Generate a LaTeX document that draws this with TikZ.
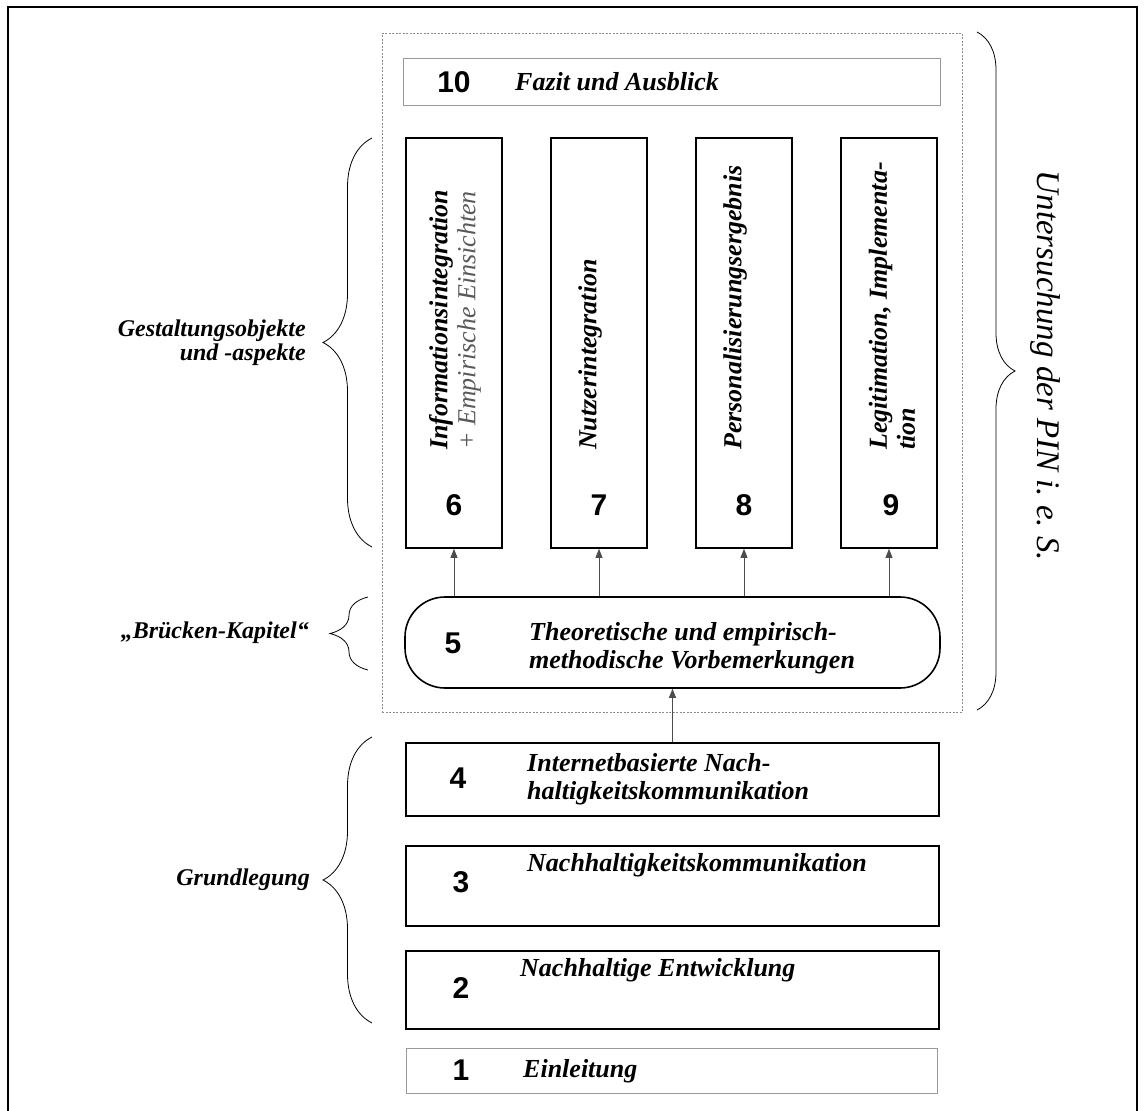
\documentclass[tikz,border=0pt]{standalone}
\usepackage{fontspec}
\setmainfont{Liberation Serif}
\newfontfamily\numfont{Liberation Sans}
\usetikzlibrary{arrows.meta,decorations.pathreplacing}
\frenchspacing

\begin{document}
\begin{tikzpicture}[x=1pt,y=-1pt,
  chap/.style={draw, line width=1.6pt, inner sep=0pt},
  lightchap/.style={draw=black!40, line width=1pt, inner sep=0pt},
  num/.style={font=\numfont\bfseries\fontsize{30}{30}\selectfont, inner sep=0pt},
  ttl/.style={font=\bfseries\itshape\fontsize{26}{28}\selectfont, inner sep=0pt, align=left},
  lbl/.style={font=\bfseries\itshape\fontsize{24}{24}\selectfont, inner sep=0pt, align=right},
  up/.style={draw=black!70, line width=0.8pt, -{Triangle[length=9pt,width=7pt]}},
  brc/.style={decorate, decoration={brace, amplitude=#1}, line width=0.8pt},
]
\useasboundingbox (0,0) rectangle (1144,1111);

% outer frame
\draw[line width=1.5pt] (8,1111) -- (8,7) -- (1137,7) -- (1137,1111);

% dotted zone around chapters 5 to 10
\node[draw=black!45, dash pattern=on 2pt off 1.5pt, line width=0.7pt,
      minimum width=580pt, minimum height=679pt, inner sep=0pt] (zone) at (672,372.5) {};

% chapter boxes
\node[lightchap, minimum width=537pt, minimum height=47pt] (c10) at (671.5,81.5) {};
\node[chap, minimum width=96pt, minimum height=410pt] (c6) at (454,343) {};
\node[chap, minimum width=96pt, minimum height=410pt] (c7) at (599,343) {};
\node[chap, minimum width=96pt, minimum height=410pt] (c8) at (744,343) {};
\node[chap, minimum width=96pt, minimum height=410pt] (c9) at (889,343) {};
\node[chap, rounded corners=40pt, minimum width=535pt, minimum height=91pt] (c5) at (672.5,642.5) {};
\node[chap, minimum width=533pt, minimum height=73pt] (c4) at (672.5,779.5) {};
\node[chap, minimum width=533pt, minimum height=80pt] (c3) at (672.5,886) {};
\node[chap, minimum width=533pt, minimum height=78pt] (c2) at (672.5,990) {};
\node[lightchap, minimum width=531pt, minimum height=45pt] (c1) at (671.5,1070.5) {};

% numbers and titles
\node[num] (n10) at (454,82) {10};
\node[ttl, anchor=west] (t10) at (515,82) {Fazit und Ausblick};

\node[num] (n6) at (454,505) {6};
\node[num] (n7) at (599,505) {7};
\node[num] (n8) at (744,505) {8};
\node[num] (n9) at (891,505) {9};
\node[ttl, rotate=90, anchor=west] (t6) at (455,450)
  {Informationsintegration\\{\mdseries\color{black!65}+ Empirische Einsichten}};
\node[ttl, rotate=90, anchor=west] (t7) at (590,450) {Nutzerintegration};
\node[ttl, rotate=90, anchor=west] (t8) at (735,450) {Personalisierungsergebnis};
\node[ttl, rotate=90, anchor=west] (t9) at (892,450) {Legitimation, Implementa-\\tion};

\node[num] (n5) at (453,643) {5};
\node[ttl, anchor=west] (t5) at (529,648) {Theoretische und empirisch-\\methodische Vorbemerkungen};

\node[num] (n4) at (458,778) {4};
\node[ttl, anchor=west] (t4) at (527,779) {Internetbasierte Nach-\\haltigkeitskommunikation};
\node[num] (n3) at (461,882) {3};
\node[ttl, anchor=west] (t3) at (527,865) {Nachhaltigkeitskommunikation};
\node[num] (n2) at (461,988) {2};
\node[ttl, anchor=west] (t2) at (520,970) {Nachhaltige Entwicklung};
\node[num] (n1) at (461,1070) {1};
\node[ttl, anchor=west] (t1) at (523,1071) {Einleitung};

% arrows
\draw[up] (c5.north -| c6.south) -- (c6.south);
\draw[up] (c5.north -| c7.south) -- (c7.south);
\draw[up] (c5.north -| c8.south) -- (c8.south);
\draw[up] (c5.north -| c9.south) -- (c9.south);
\draw[up] (c4.north) -- (c5.south);

% group labels with braces
\coordinate (ga) at (372,547); \coordinate (gb) at (372,138);
\draw[brc=49pt] (ga) -- (gb);
\node[lbl, anchor=east] (lg) at (306,343) {Gestaltungsobjekte\\und -aspekte};

\coordinate (ba) at (368,670); \coordinate (bb) at (368,597);
\draw[brc=38pt] (ba) -- (bb);
\node[lbl, anchor=east] (lb) at (309,633) {„Brücken-Kapitel“};

\coordinate (ra) at (372,1023); \coordinate (rb) at (372,737);
\draw[brc=49pt] (ra) -- (rb);
\node[lbl, anchor=east] (lgr) at (310,880) {Grundlegung};

\coordinate (ua) at (977,32); \coordinate (ub) at (977,710);
\draw[brc=38pt] (ua) -- (ub);
\node[font=\itshape\fontsize{33}{33}\selectfont, rotate=-90, inner sep=0pt] (lu) at (1045,366)
  {Untersuchung der PIN i. e. S.};
\end{tikzpicture}
\end{document}
